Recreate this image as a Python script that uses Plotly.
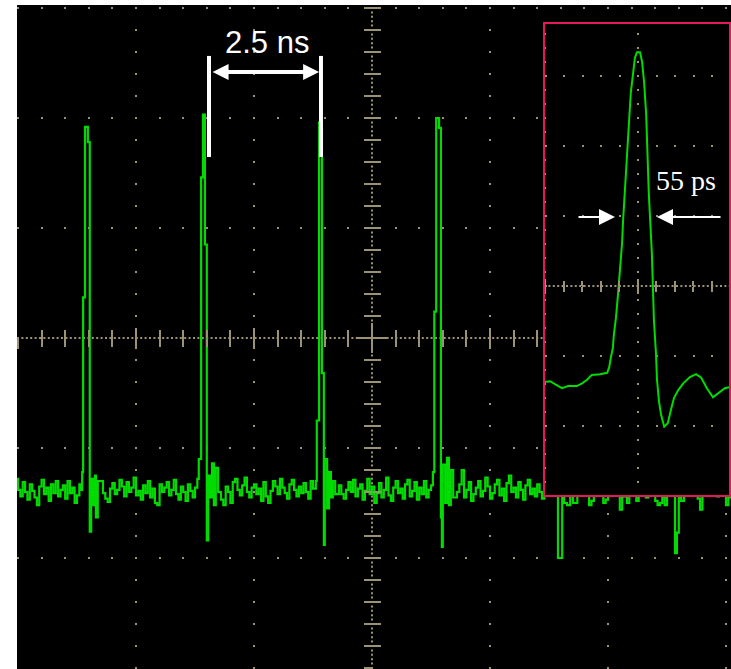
import plotly.graph_objects as go

# ---------------- data ----------------
# main oscilloscope trace: time in ns, amplitude in divisions
t_ns = [
    # baseline before pulse 1
    -7.55, -7.50, -7.45, -7.40, -7.35, -7.30, -7.25, -7.20, -7.15, -7.10, -7.05, -7.00, -6.95, -6.90,
    -6.85, -6.80, -6.75, -6.70, -6.65, -6.60, -6.55, -6.50, -6.45, -6.40, -6.35, -6.30, -6.25, -6.20,
    # pulse 1
    -6.17, -6.14, -6.12, -6.08, -6.02, -5.98, -5.95, -5.91, -5.87, -5.85, -5.81,
    # baseline
    -5.75, -5.70, -5.65, -5.60, -5.55, -5.50, -5.45, -5.40, -5.35, -5.30, -5.25, -5.20, -5.15, -5.10,
    -5.05, -5.00, -4.95, -4.90, -4.85, -4.80, -4.75, -4.70, -4.65, -4.60, -4.55, -4.50, -4.45, -4.40,
    -4.35, -4.30, -4.25, -4.20, -4.15, -4.10, -4.05, -4.00, -3.95, -3.90, -3.85, -3.80, -3.75, -3.70,
    # pulse 2
    -3.67, -3.62, -3.58, -3.54, -3.50, -3.47, -3.43, -3.39, -3.35, -3.31, -3.26,
    # baseline
    -3.20, -3.15, -3.10, -3.05, -3.00, -2.95, -2.90, -2.85, -2.80, -2.75, -2.70, -2.65, -2.60, -2.55,
    -2.50, -2.45, -2.40, -2.35, -2.30, -2.25, -2.20, -2.15, -2.10, -2.05, -2.00, -1.95, -1.90, -1.85,
    -1.80, -1.75, -1.70, -1.65, -1.60, -1.55, -1.50, -1.45, -1.40, -1.35, -1.30, -1.25,
    # pulse 3
    -1.19, -1.17, -1.12, -1.08, -1.06, -1.02, -1.00, -0.95, -0.91, -0.87, -0.83, -0.78,
    # baseline
    -0.70, -0.65, -0.60, -0.55, -0.50, -0.45, -0.40, -0.35, -0.30, -0.25, -0.20, -0.15, -0.10, -0.05,
    0.00, 0.05, 0.10, 0.15, 0.20, 0.25, 0.30, 0.35, 0.40, 0.45, 0.50, 0.55, 0.60, 0.65,
    0.70, 0.75, 0.80, 0.85, 0.90, 0.95, 1.00, 1.05, 1.10, 1.15, 1.20, 1.25,
    # pulse 4
    1.29, 1.32, 1.36, 1.42, 1.46, 1.48, 1.50, 1.55, 1.59, 1.63, 1.67, 1.72,
    # baseline
    1.80, 1.85, 1.90, 1.95, 2.00, 2.05, 2.10, 2.15, 2.20, 2.25, 2.30, 2.35, 2.40, 2.45,
    2.50, 2.55, 2.60, 2.65, 2.70, 2.75, 2.80, 2.85, 2.90, 2.95, 3.00, 3.05, 3.10, 3.15,
    3.20, 3.25, 3.30, 3.35, 3.40, 3.45, 3.50, 3.55, 3.60, 3.65, 3.70, 3.75,
    # pulse 5 (mostly behind the inset)
    3.77, 3.79, 3.84, 3.90, 3.94, 4.03, 4.07, 4.13, 4.20, 4.26,
    # baseline
    4.30, 4.35, 4.40, 4.45, 4.50, 4.55, 4.60, 4.65, 4.70, 4.75, 4.80, 4.85, 4.90, 4.95,
    5.00, 5.05, 5.10, 5.15, 5.20, 5.25, 5.30, 5.35, 5.40, 5.45, 5.50, 5.55, 5.60, 5.65,
    5.70, 5.75, 5.80, 5.85, 5.90, 5.95, 6.00, 6.05, 6.10, 6.15, 6.20,
    # pulse 6 (mostly behind the inset)
    6.25, 6.27, 6.31, 6.38, 6.42, 6.46, 6.50, 6.55, 6.61,
    # baseline
    6.70, 6.75, 6.80, 6.85, 6.90, 6.95, 7.00, 7.05, 7.10, 7.15, 7.20, 7.25, 7.30, 7.35,
    7.40, 7.45, 7.50, 7.55, 7.60,
]
v_div = [
    -1.28, -1.38, -1.44, -1.31, -1.40, -1.47, -1.33, -1.39, -1.45, -1.52, -1.35, -1.29, -1.42, -1.36,
    -1.48, -1.33, -1.41, -1.30, -1.44, -1.38, -1.34, -1.46, -1.30, -1.41, -1.36, -1.50, -1.43, -1.33,
    -1.38, -1.22, 0.37, 1.92, 1.78, -1.76, -1.28, -1.52, -1.25, -1.63, -1.30,
    -1.30, -1.41, -1.46, -1.49, -1.37, -1.32, -1.42, -1.38, -1.29, -1.35, -1.44, -1.31, -1.40, -1.36,
    -1.27, -1.43, -1.39, -1.47, -1.34, -1.41, -1.30, -1.45, -1.37, -1.50, -1.52, -1.33, -1.40, -1.36,
    -1.31, -1.43, -1.38, -1.29, -1.42, -1.47, -1.35, -1.40, -1.48, -1.33, -1.39, -1.45, -1.36, -1.28,
    -1.10, 1.46, 2.03, 0.85, -1.84, -1.25, -1.45, -1.14, -1.52, -1.18, -1.40,
    -1.47, -1.52, -1.35, -1.40, -1.50, -1.31, -1.28, -1.38, -1.43, -1.34, -1.27, -1.40, -1.45, -1.36,
    -1.33, -1.42, -1.37, -1.48, -1.31, -1.44, -1.50, -1.39, -1.30, -1.35, -1.42, -1.28, -1.36, -1.41,
    -1.46, -1.33, -1.29, -1.38, -1.44, -1.35, -1.41, -1.32, -1.40, -1.46, -1.30, -1.37,
    -1.30, -0.75, 1.96, 1.90, -0.32, -1.88, -1.10, -1.55, -1.22, -1.45, -1.30, -1.42,
    -1.34, -1.42, -1.46, -1.38, -1.31, -1.40, -1.29, -1.44, -1.37, -1.33, -1.47, -1.39, -1.28, -1.42,
    -1.35, -1.50, -1.41, -1.32, -1.45, -1.38, -1.27, -1.43, -1.48, -1.36, -1.30, -1.41, -1.37, -1.46,
    -1.33, -1.29, -1.44, -1.39, -1.31, -1.47, -1.36, -1.42, -1.30, -1.45, -1.38, -1.34,
    -1.22, 0.24, 2.00, 1.91, -1.63, -1.90, -1.15, -1.50, -1.09, -1.52, -1.20, -1.45,
    -1.40, -1.33, -1.20, -1.45, -1.38, -1.31, -1.48, -1.42, -1.36, -1.30, -1.44, -1.39, -1.27, -1.35,
    -1.46, -1.41, -1.33, -1.29, -1.43, -1.37, -1.48, -1.32, -1.25, -1.40, -1.36, -1.45, -1.31, -1.38,
    -1.47, -1.34, -1.29, -1.42, -1.37, -1.44, -1.33, -1.40, -1.46, -1.31, -1.38, -1.30,
    -1.22, 0.40, 1.95, 1.85, -2.00, -1.25, -1.50, -1.52, -1.35, -1.50,
    -1.50, -1.36, -1.30, -1.41, -1.35, -1.42, -1.52, -1.48, -1.36, -1.31, -1.40, -1.33, -1.50, -1.47,
    -1.38, -1.30, -1.35, -1.42, -1.37, -1.56, -1.44, -1.32, -1.50, -1.38, -1.32, -1.41, -1.48, -1.36,
    -1.30, -1.42, -1.45, -1.35, -1.30, -1.40, -1.48, -1.52, -1.50, -1.38, -1.52,
    -1.20, 0.40, 1.95, 1.85, -1.955, -1.77, -1.30, -1.48, -1.35,
    -1.40, -1.33, -1.38, -1.30, -1.46, -1.56, -1.42, -1.35, -1.38, -1.30, -1.41, -1.34, -1.44, -1.37,
    -1.33, -1.42, -1.52, -1.45, -1.40,
]

# zoomed single pulse (inset): time in ps, amplitude in divisions
t_ps = [-183, -171, -160, -148, -136, -119, -109, -99, -90, -74, -60, -56, -53, -49, -47,
        -43, -39, -35, -31, -29, -25, -21, -18, -14, -10, -6, -2, 4, 8, 12,
        16, 18, 21, 23, 25, 27, 29, 31, 35, 37, 41, 45, 51, 58, 64,
        70, 78, 88, 101, 113, 123, 134, 146, 156, 169, 181]
v_inset = [-1.37, -1.36, -1.41, -1.46, -1.43, -1.43, -1.39, -1.34, -1.27, -1.26, -1.24, -1.16, -1.03, -0.89, -0.70,
           -0.46, -0.13, 0.23, 0.61, 0.94, 1.47, 1.90, 2.34, 2.76, 3.01, 3.26, 3.34, 3.34, 3.20, 2.90,
           2.44, 1.90, 1.33, 1.04, 0.76, 0.47, -0.01, -0.49, -0.96, -1.34, -1.66, -1.84, -2.01, -1.96, -1.77,
           -1.60, -1.49, -1.39, -1.30, -1.26, -1.31, -1.46, -1.59, -1.53, -1.46, -1.44]

period_label = "2.5 ns"
width_label = "55 ps"

# ---------------- styling / geometry ----------------
W, H = 731, 669
ML, MT = 17, 5
PW, PH = W - ML, H - MT

X_RANGE = [-7.521, 7.606]     # ns
Y_RANGE = [-3.009, 3.027]     # div
X2_RANGE = [-182.9, 181.0]    # ps
Y2_RANGE = [-3.0, 3.757]      # div

GREEN = "#00dc00"
TAN = "#9c9274"
INSET_BORDER = "#e6175c"

# inset placement (pixels of the page)
IX0, IX1, IY0, IY1 = 544, 731, 23, 496
ins_xdom = [(IX0 - ML) / PW, (IX1 - ML) / PW]
ins_ydom = [(H - IY1) / PH, (H - IY0) / PH]

pos_xc = (0 - Y_RANGE[0]) / (Y_RANGE[1] - Y_RANGE[0])          # paper y of main centre line
pos_yc = (0 - X_RANGE[0]) / (X_RANGE[1] - X_RANGE[0])          # paper x of main centre line
pos_x2c = ins_ydom[0] + (0 - Y2_RANGE[0]) / (Y2_RANGE[1] - Y2_RANGE[0]) * (ins_ydom[1] - ins_ydom[0])

fig = go.Figure()

fig.add_trace(go.Scatter(x=t_ns, y=v_div, mode="lines", line=dict(color=GREEN, width=2.2, shape="hv"),
                         xaxis="x", yaxis="y", hoverinfo="skip", showlegend=False))
# carriers for the tick-only overlay axes
fig.add_trace(go.Scatter(x=[], y=[], xaxis="x3", yaxis="y", showlegend=False, hoverinfo="skip"))
fig.add_trace(go.Scatter(x=[], y=[], xaxis="x", yaxis="y3", showlegend=False, hoverinfo="skip"))
fig.add_trace(go.Scatter(x=t_ps, y=v_inset, mode="lines", line=dict(color=GREEN, width=2),
                         xaxis="x2", yaxis="y2", hoverinfo="skip", showlegend=False))
fig.add_trace(go.Scatter(x=[], y=[], xaxis="x4", yaxis="y2", showlegend=False, hoverinfo="skip"))

tick_common = dict(showticklabels=False, zeroline=False, showline=False, tickcolor=TAN, tickwidth=2,
                   fixedrange=True)

fig.update_layout(
    width=W, height=H,
    margin=dict(l=ML, r=0, t=MT, b=0, pad=0),
    paper_bgcolor="white", plot_bgcolor="black",
    showlegend=False,
    xaxis=dict(range=X_RANGE, domain=[0, 1], anchor="free", position=pos_xc,
               dtick=2.5, tick0=0, showgrid=True, gridcolor=TAN, gridwidth=2, griddash="0px,2px,2px,18px",
               ticks="outside", ticklen=10,
               minor=dict(dtick=0.5, tick0=0, ticks="outside", ticklen=8, tickwidth=2, tickcolor=TAN,
                          showgrid=False),
               **tick_common),
    xaxis3=dict(range=X_RANGE, domain=[0, 1], overlaying="x", anchor="free", position=pos_xc,
                dtick=2.5, tick0=0, showgrid=False, ticks="inside", ticklen=10,
                minor=dict(dtick=0.5, tick0=0, ticks="inside", ticklen=8, tickwidth=2, tickcolor=TAN,
                           showgrid=False),
                **tick_common),
    yaxis=dict(range=Y_RANGE, domain=[0, 1], anchor="free", position=pos_yc,
               dtick=1, tick0=0, showgrid=True, gridcolor=TAN, gridwidth=2, griddash="2px,21.6px",
               ticks="outside", ticklen=8,
               minor=dict(dtick=0.2, tick0=0, ticks="outside", ticklen=8, tickwidth=2, tickcolor=TAN,
                          showgrid=False),
               **tick_common),
    yaxis3=dict(range=Y_RANGE, domain=[0, 1], overlaying="y", anchor="free", position=pos_yc,
                dtick=1, tick0=0, showgrid=False, ticks="inside", ticklen=8,
                minor=dict(dtick=0.2, tick0=0, ticks="inside", ticklen=8, tickwidth=2, tickcolor=TAN,
                           showgrid=False),
                **tick_common),
    xaxis2=dict(range=X2_RANGE, domain=ins_xdom, anchor="free", position=pos_x2c,
                dtick=180, tick0=0, showgrid=True, gridcolor=TAN, gridwidth=2, griddash="0px,10px,2px,2px",
                ticks="outside", ticklen=7,
                minor=dict(dtick=36, tick0=0, ticks="outside", ticklen=5, tickwidth=2, tickcolor=TAN,
                           showgrid=False),
                **tick_common),
    xaxis4=dict(range=X2_RANGE, domain=ins_xdom, overlaying="x2", anchor="free", position=pos_x2c,
                dtick=180, tick0=0, showgrid=False, ticks="inside", ticklen=7,
                minor=dict(dtick=36, tick0=0, ticks="inside", ticklen=5, tickwidth=2, tickcolor=TAN,
                           showgrid=False),
                **tick_common),
    yaxis2=dict(range=Y2_RANGE, domain=ins_ydom, anchor="x2",
                dtick=1, tick0=0, showgrid=True, gridcolor=TAN, gridwidth=2, griddash="0px,0.5px,2px,16px",
                ticks="", **tick_common),
)

shapes = []
# dense dotted centre lines of the main graticule
shapes.append(dict(type="line", xref="x", yref="y", x0=X_RANGE[0], x1=X_RANGE[1], y0=0, y1=0,
                   line=dict(color=TAN, width=2, dash="2px,2.4px"), layer="below"))
shapes.append(dict(type="line", xref="x", yref="y", x0=0, x1=0, y0=Y_RANGE[0], y1=Y_RANGE[1],
                   line=dict(color=TAN, width=2, dash="2px,2.4px"), layer="below"))
# solid centre cross
shapes.append(dict(type="line", xref="x", yref="y", xsizemode="pixel", xanchor=0, x0=-15, x1=15, y0=0, y1=0,
                   line=dict(color=TAN, width=2), layer="below"))
shapes.append(dict(type="line", xref="x", yref="y", ysizemode="pixel", yanchor=0, y0=-15, y1=15, x0=0, x1=0,
                   line=dict(color=TAN, width=2), layer="below"))
# inset centre line
shapes.append(dict(type="line", xref="x2", yref="y2", x0=X2_RANGE[0], x1=X2_RANGE[1], y0=0, y1=0,
                   line=dict(color=TAN, width=2, dash="2px,2.4px"), layer="below"))
# inset frame
shapes.append(dict(type="rect", xref="x2 domain", yref="y2 domain", x0=0, x1=(730 - IX0) / (IX1 - IX0),
                   y0=0, y1=1, line=dict(color=INSET_BORDER, width=2), layer="above"))
# white marker bars for the pulse period
for xb in (-3.453, -1.081):
    shapes.append(dict(type="line", xref="x", yref="y", x0=xb, x1=xb, y0=1.645, y1=2.564,
                       line=dict(color="white", width=4), layer="above"))
fig.update_layout(shapes=shapes)

annotations = [
    dict(text=period_label, x=-2.22, y=2.69, xref="x", yref="y", showarrow=False,
         font=dict(family="Liberation Sans, Arial", size=31, color="white")),
    dict(text="", x=-1.12, y=2.418, ax=-3.41, ay=2.418, xref="x", yref="y", axref="x", ayref="y",
         showarrow=True, arrowside="end+start", arrowhead=2, arrowsize=0.8, arrowwidth=4,
         arrowcolor="white", standoff=0, startstandoff=0),
    dict(text=width_label, x=92.5, y=1.50, xref="x2", yref="y2", showarrow=False,
         font=dict(family="Liberation Serif, Times New Roman", size=28, color="white")),
    dict(text="", x=-44.8, y=0.986, ax=-118.7, ay=0.986, xref="x2", yref="y2", axref="x2", ayref="y2",
         showarrow=True, arrowhead=2, arrowsize=1.6, arrowwidth=2, arrowcolor="white", standoff=0),
    dict(text="", x=37.0, y=0.986, ax=163.5, ay=0.986, xref="x2", yref="y2", axref="x2", ayref="y2",
         showarrow=True, arrowhead=2, arrowsize=1.6, arrowwidth=2, arrowcolor="white", standoff=0),
]
fig.update_layout(annotations=annotations)

fig.write_html("out.html", config={"displayModeBar": False},
               post_script="document.body.style.margin='0px';document.body.style.overflow='hidden';")
